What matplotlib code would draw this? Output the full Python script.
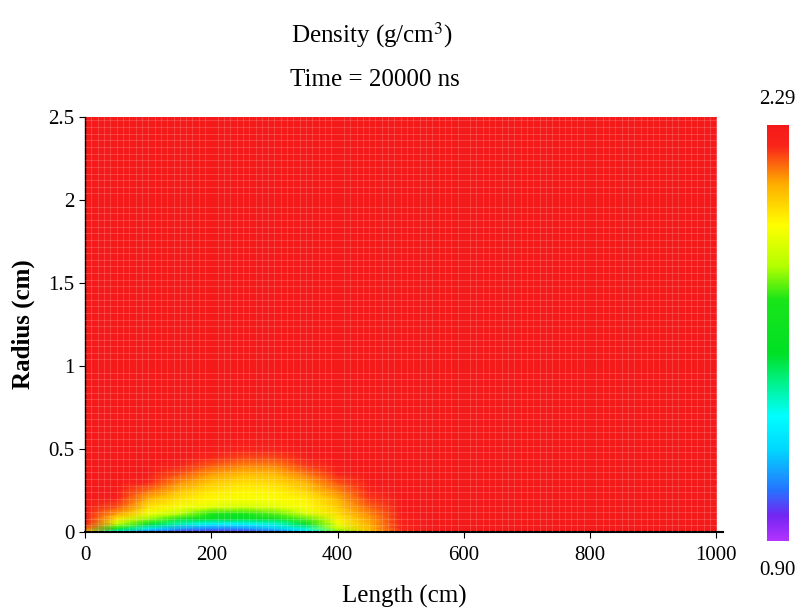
import numpy as np
import matplotlib.pyplot as plt
from matplotlib.colors import LinearSegmentedColormap, Normalize
from matplotlib.ticker import MultipleLocator

plt.rcParams['font.family'] = ['Liberation Serif', 'DejaVu Serif']

# grid of sample positions
length_cm = [0, 50, 100, 150, 200, 250, 300, 350, 400, 450, 500, 550, 1000]
radius_cm = [0.0, 0.02, 0.05, 0.08, 0.11, 0.15, 0.2, 0.25, 0.3, 0.35, 0.4, 0.45, 0.5, 0.6, 2.5]

# density (g/cm^3), one row per radius, one column per length
density = [
    [2.05, 1.30, 1.05, 0.98, 0.95, 0.97, 1.05, 1.25, 1.75, 2.05, 2.20, 2.29, 2.29],
    [2.15, 1.55, 1.25, 1.12, 1.08, 1.10, 1.18, 1.35, 1.85, 2.07, 2.22, 2.29, 2.29],
    [2.25, 1.85, 1.55, 1.38, 1.30, 1.30, 1.35, 1.55, 1.93, 2.09, 2.24, 2.29, 2.29],
    [2.29, 2.00, 1.80, 1.62, 1.55, 1.52, 1.58, 1.75, 1.98, 2.11, 2.25, 2.29, 2.29],
    [2.29, 2.10, 1.93, 1.82, 1.70, 1.65, 1.75, 1.88, 2.01, 2.13, 2.27, 2.29, 2.29],
    [2.29, 2.18, 2.00, 1.94, 1.90, 1.87, 1.90, 1.95, 2.04, 2.16, 2.29, 2.29, 2.29],
    [2.29, 2.25, 2.08, 2.00, 1.96, 1.94, 1.95, 1.98, 2.08, 2.20, 2.29, 2.29, 2.29],
    [2.29, 2.29, 2.15, 2.06, 2.00, 1.97, 1.98, 2.03, 2.13, 2.24, 2.29, 2.29, 2.29],
    [2.29, 2.29, 2.22, 2.12, 2.05, 2.01, 2.02, 2.08, 2.18, 2.28, 2.29, 2.29, 2.29],
    [2.29, 2.29, 2.28, 2.18, 2.11, 2.07, 2.07, 2.14, 2.24, 2.29, 2.29, 2.29, 2.29],
    [2.29, 2.29, 2.29, 2.24, 2.17, 2.13, 2.13, 2.20, 2.28, 2.29, 2.29, 2.29, 2.29],
    [2.29, 2.29, 2.29, 2.28, 2.22, 2.19, 2.19, 2.26, 2.29, 2.29, 2.29, 2.29, 2.29],
    [2.29, 2.29, 2.29, 2.29, 2.27, 2.25, 2.25, 2.29, 2.29, 2.29, 2.29, 2.29, 2.29],
    [2.29, 2.29, 2.29, 2.29, 2.29, 2.29, 2.29, 2.29, 2.29, 2.29, 2.29, 2.29, 2.29],
    [2.29, 2.29, 2.29, 2.29, 2.29, 2.29, 2.29, 2.29, 2.29, 2.29, 2.29, 2.29, 2.29],
]

d_min, d_max = 0.90, 2.29
x_ticks = [0, 200, 400, 600, 800, 1000]
y_ticks = [0, 0.5, 1, 1.5, 2, 2.5]
y_ticklabels = ["0", "0.5", "1", "1.5", "2", "2.5"]

# rainbow, purple at the bottom, red at the top
cmap = LinearSegmentedColormap.from_list("dens", [
    (0.00, (0.70, 0.20, 1.00)),
    (0.06, (0.45, 0.15, 0.95)),
    (0.12, (0.15, 0.45, 1.00)),
    (0.22, (0.00, 0.85, 1.00)),
    (0.30, (0.00, 1.00, 1.00)),
    (0.38, (0.00, 0.95, 0.55)),
    (0.45, (0.00, 0.88, 0.15)),
    (0.58, (0.10, 0.90, 0.10)),
    (0.66, (0.70, 1.00, 0.00)),
    (0.76, (1.00, 1.00, 0.00)),
    (0.86, (1.00, 0.68, 0.00)),
    (0.95, (0.98, 0.15, 0.10)),
    (1.00, (0.96, 0.10, 0.10)),
])
norm = Normalize(d_min, d_max)

fig = plt.figure(figsize=(8.11, 6.13), dpi=100)
ax = fig.add_axes([0.105, 0.132, 0.786, 0.677])

X, Y = np.meshgrid(length_cm, radius_cm)
ax.pcolormesh(X, Y, np.array(density), cmap=cmap, norm=norm, shading='gouraud')

ax.set_xlim(0, 1010)
ax.set_ylim(0, 2.5)
ax.set_xticks(x_ticks)
ax.set_xticklabels([str(v) for v in x_ticks])
ax.set_yticks(y_ticks)
ax.set_yticklabels(y_ticklabels)
ax.tick_params(axis='both', which='major', direction='out', length=4,
               labelsize=15, colors='black')
ax.tick_params(axis='x', pad=6)

# faint mesh lines over the field
ax.xaxis.set_minor_locator(MultipleLocator(10))
ax.yaxis.set_minor_locator(MultipleLocator(0.04))
ax.tick_params(which='minor', length=0)
ax.grid(which='minor', color='white', alpha=0.16, linewidth=0.8)
ax.set_axisbelow(False)

for s in ['top', 'right']:
    ax.spines[s].set_visible(False)
ax.spines['left'].set_linewidth(1.0)
ax.spines['bottom'].set_linewidth(1.5)

ax.set_xlabel("Length (cm)", fontsize=18)
ax.set_ylabel("Radius (cm)", fontsize=18, fontweight='bold')
ax.xaxis.set_label_coords(0.5, -0.128)
ax.yaxis.set_label_coords(-0.078, 0.5)

fig.text(0.458, 0.943, "Density (g/cm$^3$)", ha='center', va='center', fontsize=18,
         math_fontfamily='stix')
fig.text(0.462, 0.869, "Time = 20000 ns", ha='center', va='center', fontsize=18)

# colour bar
cax = fig.add_axes([0.946, 0.118, 0.026, 0.678])
grad = np.linspace(d_min, d_max, 256).reshape(-1, 1)
cax.imshow(grad, cmap=cmap, norm=norm, aspect='auto', origin='lower',
           extent=[0, 1, d_min, d_max])
cax.set_xticks([])
cax.set_yticks([])
for s in cax.spines.values():
    s.set_visible(False)
fig.text(0.959, 0.837, f"{d_max:.2f}", ha='center', va='center', fontsize=15)
fig.text(0.959, 0.070, f"{d_min:.2f}", ha='center', va='center', fontsize=15)

fig.savefig("out.png", dpi=100)
